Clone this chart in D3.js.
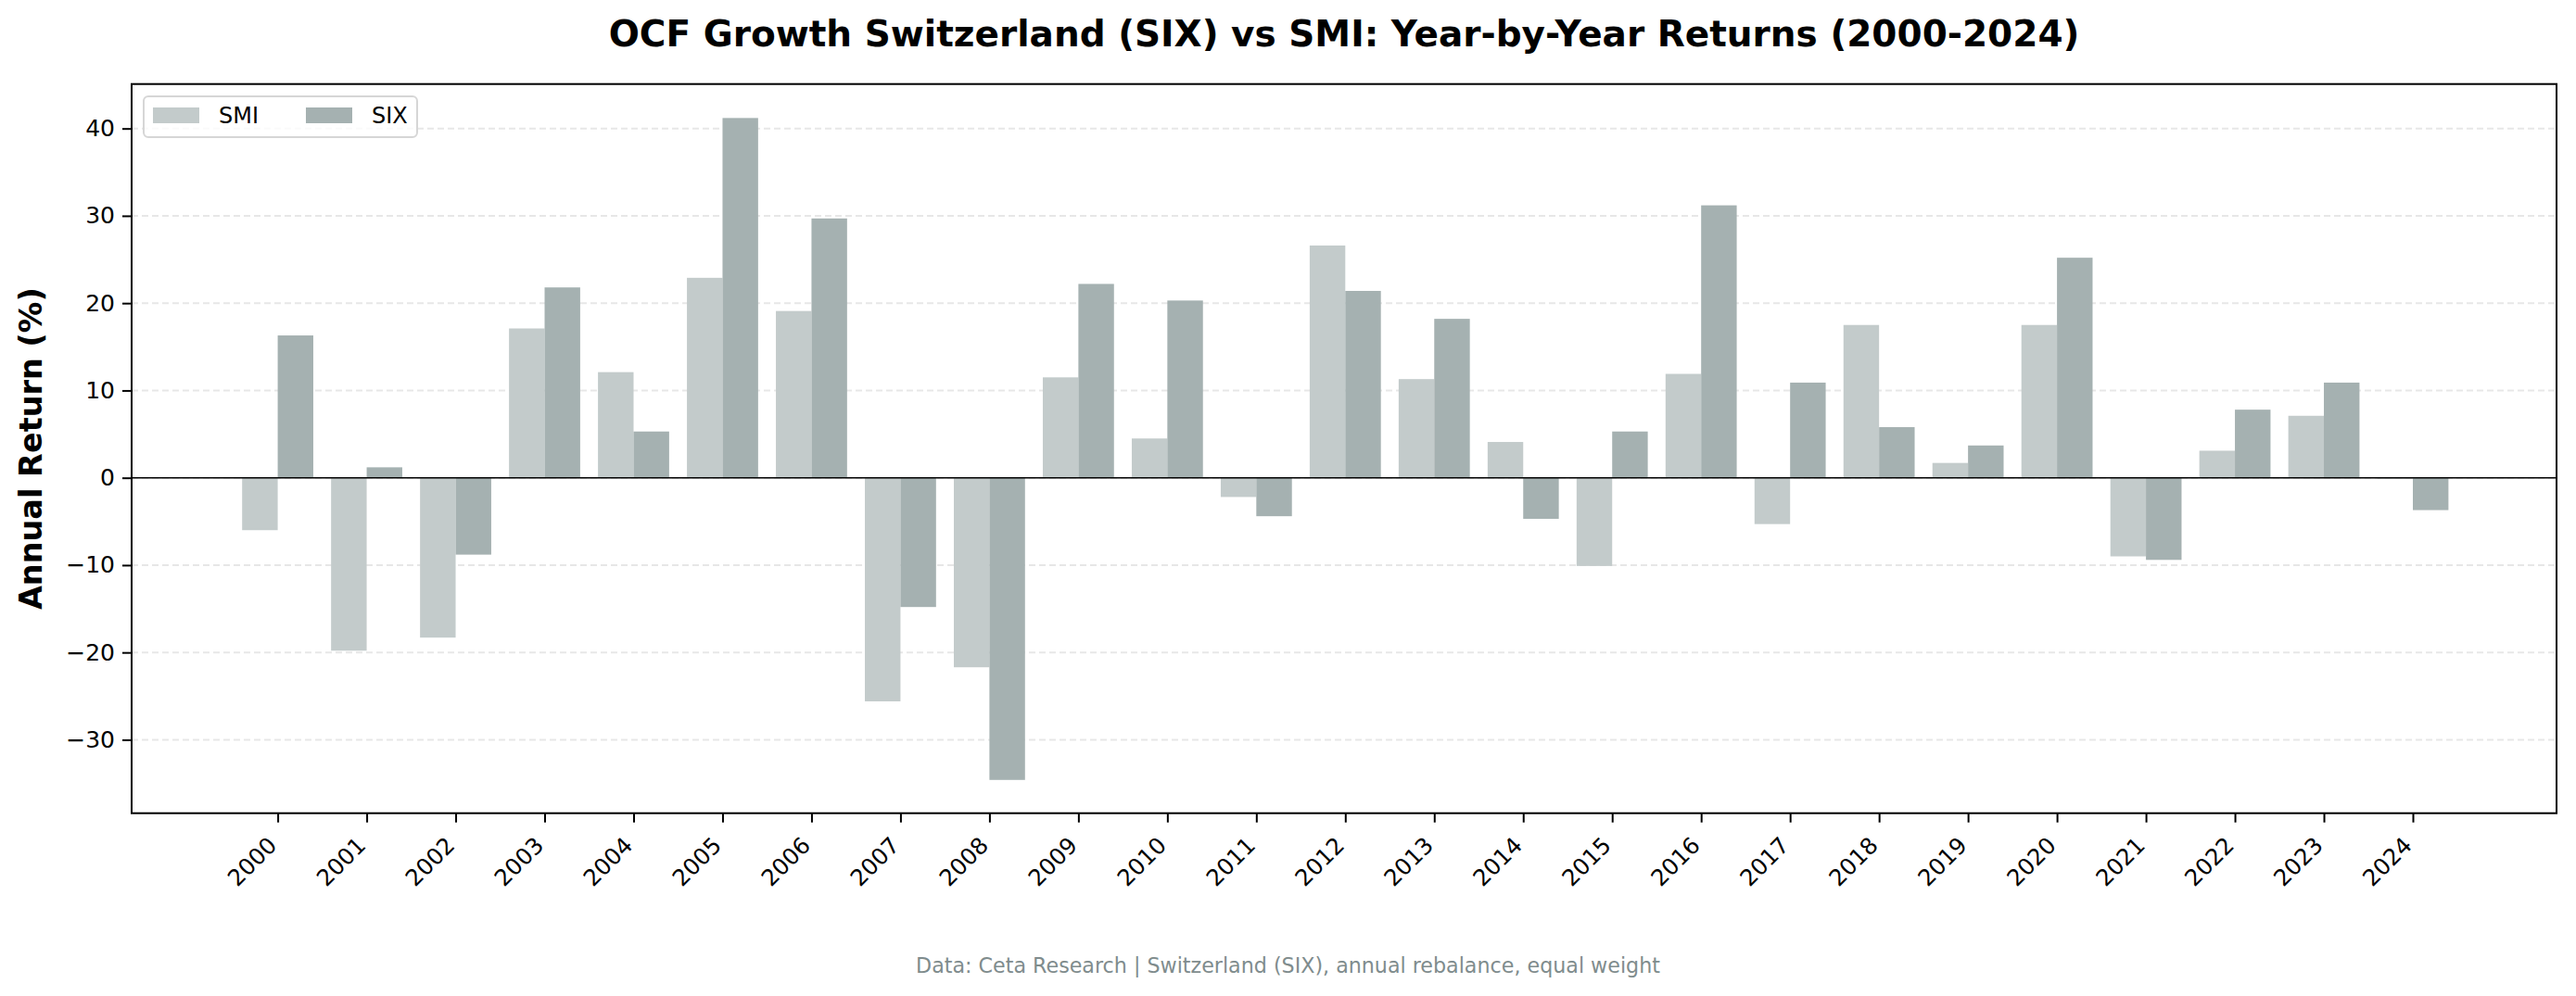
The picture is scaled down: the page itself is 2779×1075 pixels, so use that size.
<!DOCTYPE html>
<head>
<meta charset="utf-8">
<style>
    body { margin: 0; background: #fff; }
    text { font-family: "DejaVu Sans", sans-serif; }
</style>
</head>
<body>
    <script src="https://d3js.org/d3.v7.min.js"></script>
    <script>

    // data
    const years = ['2000','2001','2002','2003','2004','2005','2006','2007','2008','2009','2010','2011','2012',
                   '2013','2014','2015','2016','2017','2018','2019','2020','2021','2022','2023','2024'];
    const smi = [-6.0, -19.8, -18.3, 17.1, 12.1, 22.9, 19.1, -25.6, -21.7, 11.5, 4.5, -2.2, 26.6,
                 11.3, 4.1, -10.1, 11.9, -5.3, 17.5, 1.7, 17.5, -9.0, 3.1, 7.1, -0.1];
    const six = [16.3, 1.2, -8.8, 21.8, 5.3, 41.2, 29.7, -14.8, -34.6, 22.2, 20.3, -4.4, 21.4,
                 18.2, -4.7, 5.3, 31.2, 10.9, 5.8, 3.7, 25.2, -9.4, 7.8, 10.9, -3.7];
    const yTicks = [-30, -20, -10, 0, 10, 20, 30, 40];
    const seriesNames = ['SMI', 'SIX'];

    // setup
    const W = 2779, H = 1075;
    const plot = { left: 142, right: 2758, top: 90.7, bottom: 877.7 };
    const colors = { SMI: '#c3cbcb', SIX: '#a5b1b1' };
    const barW = 0.4;

    const svg = d3.select('body').append('svg')
        .attr('width', W).attr('height', H);

    const x = d3.scaleLinear().domain([-1.642, 25.615]).range([plot.left, plot.right]);
    const y = d3.scaleLinear().domain([-38.41, 45.09]).range([plot.bottom, plot.top]);

    // grid
    svg.append('g').selectAll('line').data(yTicks)
        .enter().append('line')
            .attr('x1', plot.left).attr('x2', plot.right)
            .attr('y1', d => y(d)).attr('y2', d => y(d))
            .attr('stroke', '#e7e7e7').attr('stroke-width', 2)
            .attr('stroke-dasharray', '7,4');

    // bars
    const rows = years.map((yr, i) => ({ i: i, SMI: smi[i], SIX: six[i] }));
    seriesNames.forEach((name, k) => {
        const off = k === 0 ? -barW : 0;
        svg.append('g').selectAll('rect').data(rows)
            .enter().append('rect')
                .attr('x', d => x(d.i + off))
                .attr('width', d => x(d.i + off + barW) - x(d.i + off))
                .attr('y', d => y(Math.max(0, d[name])))
                .attr('height', d => Math.abs(y(d[name]) - y(0)))
                .attr('fill', colors[name]);
    });

    // zero line
    svg.append('line')
        .attr('x1', plot.left).attr('x2', plot.right)
        .attr('y1', y(0)).attr('y2', y(0))
        .attr('stroke', '#000').attr('stroke-width', 1.5);

    // axes
    const yAxis = d3.axisLeft(y).tickValues(yTicks).tickSize(10).tickPadding(8)
        .tickFormat(d => d < 0 ? '\u2212' + Math.abs(d) : d);
    const gy = svg.append('g').attr('transform', 'translate(' + plot.left + ',0)').call(yAxis);
    gy.select('.domain').remove();
    gy.selectAll('line').attr('stroke-width', 2);
    gy.selectAll('text').attr('font-size', 25).attr('fill', '#000')
        .attr('font-family', '"DejaVu Sans", sans-serif');

    const xAxis = d3.axisBottom(x).tickValues(d3.range(years.length)).tickSize(10)
        .tickFormat(i => years[i]);
    const gx = svg.append('g').attr('transform', 'translate(0,' + plot.bottom + ')').call(xAxis);
    gx.select('.domain').remove();
    gx.selectAll('line').attr('stroke-width', 2);
    const fs = 24.5;
    gx.selectAll('text')
        .attr('font-size', fs).attr('fill', '#000')
        .attr('font-family', '"DejaVu Sans", sans-serif')
        .attr('text-anchor', 'end')
        .attr('y', null).attr('dy', null)
        .attr('transform', d => 'translate(4,' + (16 + fs * 1.16 * 0.707 + fs * 0.17) + ') rotate(-45)')
        .attr('dy', -fs * 0.236);

    // frame
    svg.append('rect')
        .attr('x', plot.left).attr('y', plot.top)
        .attr('width', plot.right - plot.left).attr('height', plot.bottom - plot.top)
        .attr('fill', 'none').attr('stroke', '#000').attr('stroke-width', 2);

    // legend
    const lg = svg.append('g');
    lg.append('rect')
        .attr('x', 155).attr('y', 104).attr('width', 295).attr('height', 44)
        .attr('rx', 5).attr('fill', '#fff').attr('fill-opacity', 0.8)
        .attr('stroke', '#d6d6d6').attr('stroke-width', 2);
    seriesNames.forEach((name, k) => {
        lg.append('rect')
            .attr('x', 165 + k * 165).attr('y', 116).attr('width', 50).attr('height', 17)
            .attr('fill', colors[name]);
        lg.append('text')
            .attr('x', 236 + k * 165).attr('y', 132.5)
            .attr('font-size', 24).text(name);
    });

    // titles
    svg.append('text')
        .attr('x', (plot.left + plot.right) / 2).attr('y', 49.5)
        .attr('text-anchor', 'middle').attr('font-size', 39).attr('font-weight', 'bold')
        .text('OCF Growth Switzerland (SIX) vs SMI: Year-by-Year Returns (2000-2024)');

    svg.append('text')
        .attr('transform', 'translate(45,' + ((plot.top + plot.bottom) / 2) + ') rotate(-90)')
        .attr('text-anchor', 'middle').attr('font-size', 33.5).attr('font-weight', 'bold')
        .text('Annual Return (%)');

    svg.append('text')
        .attr('x', W / 2).attr('y', 1050)
        .attr('text-anchor', 'middle').attr('font-size', 22.2).attr('fill', '#7f8c8d')
        .text('Data: Ceta Research | Switzerland (SIX), annual rebalance, equal weight');

    </script>
</body>
